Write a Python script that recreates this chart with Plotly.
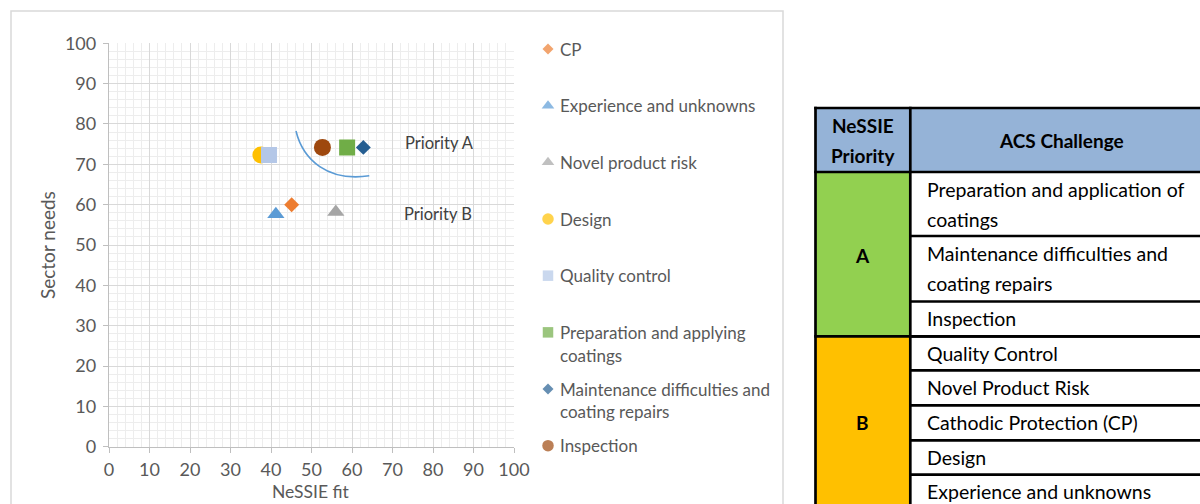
import plotly.graph_objects as go

W, H = 1200, 504

# ---------------- data ----------------
series_names = ["CP", "Experience and unknowns", "Novel product risk", "Design",
                "Quality control", "Preparation and applying coatings",
                "Maintenance difficulties and coating repairs", "Inspection"]
legend_lines = [["CP"], ["Experience and unknowns"], ["Novel product risk"], ["Design"],
                ["Quality control"], ["Preparation and applying", "coatings"],
                ["Maintenance difficulties and", "coating repairs"], ["Inspection"]]
nessie_fit = [45.1, 41.2, 56.0, 37.5, 39.5, 58.8, 62.8, 52.7]
sector_needs = [60.0, 57.6, 58.2, 72.3, 72.3, 74.2, 74.2, 74.2]
symbols = ["diamond", "triangle-up", "triangle-up", "circle", "square", "square", "diamond", "circle"]
colors = ["#ED7D31", "#5B9BD5", "#A5A5A5", "#FFC000", "#B4C7E7", "#70AD47", "#255E91", "#9E480E"]
sizes = [11.5, 15, 15, 17, 16, 16, 11.5, 17]
legend_sizes = [8.5, 11, 11, 11.5, 10.5, 10.5, 8.5, 11.5]

x_ticks = list(range(0, 101, 10))
y_ticks = list(range(0, 101, 10))

region_labels = ["Priority A", "Priority B"]
region_x = [72.6, 72.3]
region_y = [75.4, 57.7]
# boundary arc (cubic bezier, data coordinates)
arc_pts = [(46.17, 78.26), (47.9, 71.07), (54.07, 65.62), (64.27, 67.15)]

table_header = [["NeSSIE", "Priority"], ["ACS Challenge"]]
table_priority = ["A", "B"]
priority_colors = ["#92D050", "#FFC000"]
priority_rows = [3, 5]
table_challenges = [["Preparation and application of", "coatings"],
                    ["Maintenance difficulties and", "coating repairs"],
                    ["Inspection"], ["Quality Control"], ["Novel Product Risk"],
                    ["Cathodic Protection (CP)"], ["Design"], ["Experience and unknowns"]]

# ---------------- layout helpers ----------------
FONT = "Lato, 'Open Sans', sans-serif"
GREY = "#595959"


def px(x):
    return x / W


def py(y):
    return 1 - y / H


fig = go.Figure()

for i in range(len(series_names)):
    fig.add_trace(go.Scatter(
        x=[nessie_fit[i]], y=[sector_needs[i]], mode="markers", name=series_names[i],
        marker=dict(symbol=symbols[i], color=colors[i], size=sizes[i], line=dict(width=0)),
        showlegend=False, xaxis="x", yaxis="y"))

# manual legend on overlay axes (x in pixels, y = item index)
leg_first = 49
leg_step = 56.67
leg_x = 548
fig.add_trace(go.Scatter(
    x=[leg_x] * len(series_names), y=list(range(len(series_names))), mode="markers",
    marker=dict(symbol=symbols, color=colors, size=legend_sizes, line=dict(width=0)),
    showlegend=False, xaxis="x2", yaxis="y2", hoverinfo="skip"))

annotations = []
for i, lines in enumerate(legend_lines):
    for j, ln in enumerate(lines):
        annotations.append(dict(x=leg_x + 10, y=i + j * 22.7 / leg_step, xref="x2", yref="y2",
                                text=ln, showarrow=False, xanchor="left", yanchor="middle",
                                font=dict(family=FONT, size=17, color=GREY)))

for t, xx, yy in zip(region_labels, region_x, region_y):
    annotations.append(dict(x=xx, y=yy, xref="x", yref="y", text=t, showarrow=False,
                            xanchor="left", yanchor="middle",
                            font=dict(family=FONT, size=16.5, color="#404040")))

# axis titles
annotations.append(dict(x=px(311), y=py(491.5), xref="paper", yref="paper", text="NeSSIE fit",
                        showarrow=False, xanchor="center", yanchor="middle",
                        font=dict(family=FONT, size=17.5, color=GREY)))
annotations.append(dict(x=px(47), y=py(245), xref="paper", yref="paper", text="Sector needs",
                        showarrow=False, textangle=-90, xanchor="center", yanchor="middle",
                        font=dict(family=FONT, size=19, color=GREY)))

shapes = []
# chart border
shapes.append(dict(type="rect", xref="paper", yref="paper", x0=px(11), x1=px(783),
                   y0=py(520), y1=py(11), line=dict(color="#D9D9D9", width=1.5),
                   fillcolor="rgba(0,0,0,0)", layer="below"))
# arc
p = arc_pts
shapes.append(dict(type="path", xref="x", yref="y",
                   path=f"M {p[0][0]},{p[0][1]} C {p[1][0]},{p[1][1]} {p[2][0]},{p[2][1]} {p[3][0]},{p[3][1]}",
                   line=dict(color="#5B9BD5", width=1.6)))

# ---------------- table ----------------
tl, tm, tr = 815.5, 910.3, 1212
row_edges = [108, 172, 236, 301.5, 336.3, 370.3, 405.3, 440.3, 474.7, 509]
BW = 2.7
label_y = [255, 422.7]

shapes.append(dict(type="rect", xref="paper", yref="paper", x0=px(tl), x1=px(tr),
                   y0=py(row_edges[1]), y1=py(row_edges[0]), fillcolor="#95B3D7", line=dict(width=0)))
start = 1
for k, nrow in enumerate(priority_rows):
    shapes.append(dict(type="rect", xref="paper", yref="paper", x0=px(tl), x1=px(tm),
                       y0=py(row_edges[start + nrow]), y1=py(row_edges[start]),
                       fillcolor=priority_colors[k], line=dict(width=0)))
    annotations.append(dict(x=px((tl + tm) / 2), y=py(label_y[k]),
                            xref="paper", yref="paper", text=f"<b>{table_priority[k]}</b>", showarrow=False,
                            xanchor="center", yanchor="middle", font=dict(family=FONT, size=19, color="black")))
    start += nrow


def hline(x0, x1, y):
    shapes.append(dict(type="line", xref="paper", yref="paper", x0=px(x0), x1=px(x1),
                       y0=py(y), y1=py(y), line=dict(color="black", width=BW)))


def vline(x, y0, y1):
    shapes.append(dict(type="line", xref="paper", yref="paper", x0=px(x), x1=px(x),
                       y0=py(y0), y1=py(y1), line=dict(color="black", width=BW)))


hline(tl - 1.3, tr, row_edges[0])
hline(tl - 1.3, tr, row_edges[1])
hline(tl - 1.3, tr, row_edges[1 + priority_rows[0]])
for r in range(2, len(row_edges) - 1):
    hline(tm, tr, row_edges[r])
vline(tl, row_edges[0] - 1.3, row_edges[-1])
vline(tm, row_edges[0] - 1.3, row_edges[-1])

# header text
hdr_font = dict(family=FONT, size=19, color="black")
annotations.append(dict(x=px((tl + tm) / 2), y=py(125.7), xref="paper", yref="paper",
                        text="<b>" + table_header[0][0] + "</b>", showarrow=False,
                        xanchor="center", yanchor="middle", font=hdr_font))
annotations.append(dict(x=px((tl + tm) / 2), y=py(155), xref="paper", yref="paper",
                        text="<b>" + table_header[0][1] + "</b>", showarrow=False,
                        xanchor="center", yanchor="middle", font=hdr_font))
annotations.append(dict(x=px(1061), y=py(140.5), xref="paper", yref="paper",
                        text="<b>" + table_header[1][0] + "</b>", showarrow=False,
                        xanchor="center", yanchor="middle", font=hdr_font))

for r, lines in enumerate(table_challenges):
    yc = (row_edges[r + 1] + row_edges[r + 2]) / 2
    if r == len(table_challenges) - 1:
        yc = 491.7
    n = len(lines)
    for j, ln in enumerate(lines):
        yy = yc + (j - (n - 1) / 2) * 30
        annotations.append(dict(x=px(925), y=py(yy), xref="paper", yref="paper", text=ln,
                                showarrow=False, xanchor="left", yanchor="middle",
                                font=dict(family=FONT, size=19.5, color="black")))

axis_common = dict(
    range=[0, 100], tickmode="array", showgrid=True, gridcolor="#D9D9D9", gridwidth=1.3,
    minor=dict(dtick=2, tick0=0, showgrid=True, gridcolor="#EDEDED", gridwidth=1.3, ticks=""),
    showline=True, linecolor="#BFBFBF", linewidth=1.3, ticks="outside", ticklen=5,
    tickcolor="#BFBFBF", tickwidth=1.3, zeroline=False, automargin=False,
    tickfont=dict(family=FONT, size=18, color=GREY), fixedrange=True)

fig.update_layout(
    width=W, height=H, margin=dict(l=0, r=0, t=0, b=0, pad=0, autoexpand=False), autosize=False,
    paper_bgcolor="white", plot_bgcolor="rgba(0,0,0,0)", showlegend=False,
    xaxis=dict(domain=[px(109), px(514)], tickvals=x_ticks, anchor="y", ticklabelstandoff=2, **axis_common),
    yaxis=dict(domain=[py(446.7), py(43.3)], tickvals=y_ticks, anchor="x", ticklabelstandoff=3, **axis_common),
    xaxis2=dict(domain=[0, 1], range=[0, W], visible=False, anchor="y2", fixedrange=True, automargin=False),
    yaxis2=dict(domain=[0, 1], range=[(H - leg_first) / leg_step, -leg_first / leg_step],
                visible=False, anchor="x2", fixedrange=True, automargin=False),
    shapes=shapes, annotations=annotations,
)

fig.write_html("out.html")
